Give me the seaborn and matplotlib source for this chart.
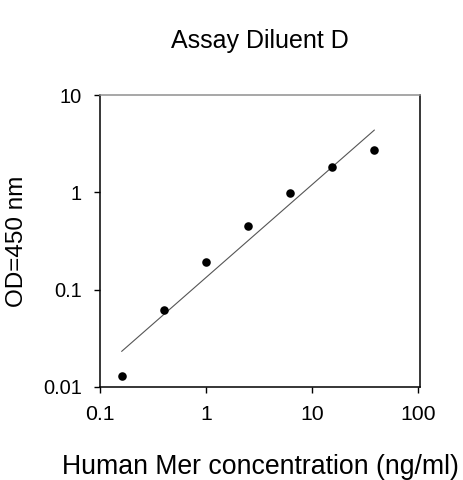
import seaborn as sns
import matplotlib
matplotlib.use("Agg")
import matplotlib.pyplot as plt
import matplotlib.ticker as mticker
import numpy as np
import pandas as pd

sns.set_theme(style="ticks")
plt.rcParams['font.family'] = ['Liberation Sans', 'DejaVu Sans']
plt.rcParams['text.color'] = 'black'
plt.rcParams['xtick.labelcolor'] = 'black'
plt.rcParams['ytick.labelcolor'] = 'black'
plt.rcParams['axes.labelcolor'] = 'black'

# standard curve values
conc = [0.16, 0.4, 1.0, 2.5, 6.25, 15.6, 39.0]
od = [0.013, 0.061, 0.19, 0.455, 0.98, 1.8, 2.73]
x_ticks = [0.1, 1, 10, 100]
y_ticks = [0.01, 0.1, 1, 10]
x_tick_labels = ["0.1", "1", "10", "100"]
y_tick_labels = ["0.01", "0.1", "1", "10"]

data = pd.DataFrame({"conc": conc, "od": od})

# power fit (straight line on log-log axes)
slope, intercept = np.polyfit(np.log10(data["conc"]), np.log10(data["od"]), 1)
fit = pd.DataFrame({"conc": [min(conc), max(conc)]})
fit["od"] = 10 ** (intercept + slope * np.log10(fit["conc"]))

fig = plt.figure(figsize=(4.63, 4.8), dpi=100)
ax = fig.add_axes([0.216, 0.194, 0.691, 0.608])

sns.lineplot(data=fit, x="conc", y="od", ax=ax, color="#555555", linewidth=0.8)
sns.scatterplot(data=data, x="conc", y="od", ax=ax, color="black", s=38,
                edgecolor="black", linewidth=0, zorder=3)

ax.set_xscale("log")
ax.set_yscale("log")
ax.set_xlim(0.1, 105)
ax.set_ylim(0.01, 10)
ax.set_xticks(x_ticks)
ax.set_xticklabels(x_tick_labels)
ax.set_yticks(y_ticks)
ax.set_yticklabels(y_tick_labels)
ax.xaxis.set_minor_locator(mticker.NullLocator())
ax.yaxis.set_minor_locator(mticker.NullLocator())

ax.tick_params(axis="x", labelsize=15.3, length=4, width=1, color="black", pad=9)
ax.tick_params(axis="y", labelsize=14.4, length=4, width=1, color="black", pad=9)

for side in ["left", "right", "bottom"]:
    ax.spines[side].set_color("black")
    ax.spines[side].set_linewidth(1.1)
ax.spines["top"].set_color("#909090")
ax.spines["top"].set_linewidth(1.1)

ax.set_title("Assay Diluent D", fontsize=18, pad=34)
ax.set_xlabel("Human Mer concentration (ng/ml)", fontsize=19.2, labelpad=22)
ax.set_ylabel("OD=450 nm", fontsize=17.5, labelpad=11)

fig.savefig("out.png", dpi=100, facecolor="white")
